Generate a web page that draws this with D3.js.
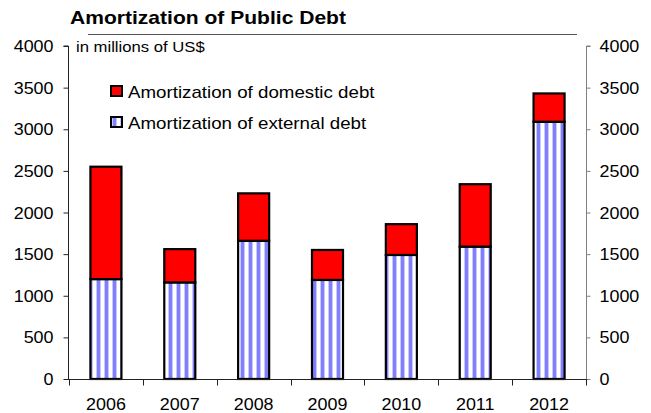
<!DOCTYPE html>
<html>
<head>
<meta charset="utf-8">
<script src="https://cdn.jsdelivr.net/npm/d3@7/dist/d3.min.js"></script>
<style>
  html, body { margin: 0; padding: 0; background: #fff; }
  svg { display: block; font-family: "Liberation Sans", Arial, sans-serif; }
</style>
</head>
<body>
<svg id="chart" width="651" height="413"></svg>
<script>
// Public debt amortization, millions of US$
const years = ["2006", "2007", "2008", "2009", "2010", "2011", "2012"];
const externalDebt = [1200, 1160, 1660, 1190, 1490, 1590, 3090];
const domesticDebt = [1350, 400, 570, 360, 370, 750, 340];
const yTicks = [0, 500, 1000, 1500, 2000, 2500, 3000, 3500, 4000];
const seriesNames = ["Amortization of domestic debt", "Amortization of external debt"];

const svg = d3.select("#chart");
const m = { left: 69, right: 586, top: 46, bottom: 379 };

// text drawn slightly wide, anchored at (x, y)
function wideText(sel, x, y, sx) {
  return sel.attr("x", 0).attr("y", 0).attr("transform", `translate(${x},${y}) scale(${sx},1)`);
}

// vertical stripe fill for external debt
const defs = svg.append("defs");
const pat = defs.append("pattern")
  .attr("id", "stripes")
  .attr("patternUnits", "userSpaceOnUse")
  .attr("width", 8).attr("height", 8);
pat.append("rect").attr("width", 8).attr("height", 8).attr("fill", "#ffffff");
pat.append("rect").attr("x", 0).attr("width", 1).attr("height", 8).attr("fill", "#c8c8ff");
pat.append("rect").attr("x", 1).attr("width", 3).attr("height", 8).attr("fill", "#8080ff");
pat.append("rect").attr("x", 4).attr("width", 1).attr("height", 8).attr("fill", "#c8c8ff");

const x = d3.scaleBand().domain(years).range([m.left, m.right]).paddingInner(0.58).paddingOuter(0.29);
const xTickScale = d3.scaleLinear().domain([0, years.length]).range([m.left, m.right]);
const y = d3.scaleLinear().domain([0, 4000]).range([m.bottom, m.top]);

// title and rule
wideText(svg.append("text"), 70, 24, 1.17)
  .attr("font-size", 18).attr("font-weight", "bold").attr("fill", "#000")
  .text("Amortization of Public Debt");
svg.append("line").attr("x1", 88).attr("x2", 577).attr("y1", 34.5).attr("y2", 34.5)
  .attr("stroke", "#555").attr("stroke-width", 1);

wideText(svg.append("text"), 76, 52, 1.15)
  .attr("font-size", 14.5).attr("fill", "#000").text("in millions of US$");

// stacked data
const stackData = years.map((yr, i) => ({ year: yr, external: externalDebt[i], domestic: domesticDebt[i] }));
const stack = d3.stack().keys(["external", "domestic"])(stackData);
const fills = { external: "url(#stripes)", domestic: "#ff0000" };

svg.append("g").selectAll("g").data(stack).join("g")
  .attr("fill", d => fills[d.key])
  .selectAll("rect").data(d => d).join("rect")
  .attr("x", d => x(d.data.year))
  .attr("width", x.bandwidth())
  .attr("y", d => y(d[1]))
  .attr("height", d => y(d[0]) - y(d[1]))
  .attr("stroke", "#000").attr("stroke-width", 2.2);

// left axis
const leftAxis = svg.append("g").attr("transform", `translate(${m.left - 0.5},0)`)
  .call(d3.axisLeft(y).tickValues(yTicks).tickSize(5).tickPadding(10).tickFormat(d3.format("d")));
leftAxis.select(".domain").attr("stroke", "#222").attr("d", `M-5,${y(4000)}H0V${y(0)}`);
leftAxis.selectAll(".tick line").attr("stroke", "#222");
leftAxis.selectAll(".tick text").each(function () {
  const t = d3.select(this);
  t.attr("font-size", 16).attr("fill", "#000").attr("font-family", "Liberation Sans, Arial, sans-serif")
   .attr("dy", null);
  wideText(t, -15, 5.5, 1.12);
});

// right axis
const rightAxis = svg.append("g").attr("transform", `translate(${m.right + 0.5},0)`)
  .call(d3.axisRight(y).tickValues(yTicks).tickSize(4).tickPadding(9).tickFormat(d3.format("d")));
rightAxis.select(".domain").attr("stroke", "#808080").attr("d", `M4,${y(4000)}H0V${y(0)}`);
rightAxis.selectAll(".tick line").attr("stroke", "#808080");
rightAxis.selectAll(".tick text").each(function () {
  const t = d3.select(this);
  t.attr("font-size", 16).attr("fill", "#000").attr("font-family", "Liberation Sans, Arial, sans-serif")
   .attr("dy", null);
  wideText(t, 13, 5.5, 1.12);
});

// x axis baseline with ticks at category boundaries
const xAxis = svg.append("g").attr("transform", `translate(0,${m.bottom + 0.5})`);
xAxis.append("line").attr("x1", m.left - 1).attr("x2", m.right + 1)
  .attr("stroke", "#222");
xAxis.selectAll("line.tk").data(d3.range(years.length + 1)).join("line")
  .attr("class", "tk")
  .attr("x1", d => Math.round(xTickScale(d)) + 0.5).attr("x2", d => Math.round(xTickScale(d)) + 0.5)
  .attr("y1", 0).attr("y2", 6).attr("stroke", "#222");
xAxis.selectAll("text").data(years).join("text")
  .each(function (d) { wideText(d3.select(this), x(d) + x.bandwidth() / 2, 30.5, 1.12); })
  .attr("text-anchor", "middle").attr("font-size", 16).attr("fill", "#000")
  .text(d => d);

// legend
const legend = svg.append("g");
const legendFills = ["#ff0000", "url(#stripes)"];
seriesNames.forEach((name, i) => {
  const ly = 86 + i * 31;
  legend.append("rect").attr("x", 111).attr("y", ly).attr("width", 11).attr("height", 10)
    .attr("fill", legendFills[i]).attr("stroke", "#000").attr("stroke-width", 2);
  wideText(legend.append("text"), 128, ly + 11.5, 1.17)
    .attr("font-size", 16).attr("fill", "#000").text(name);
});
</script>
</body>
</html>
